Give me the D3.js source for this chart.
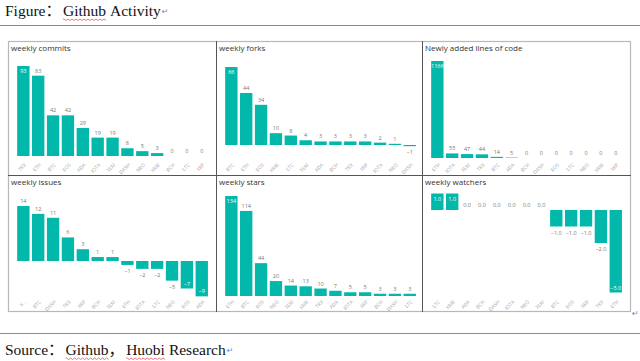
<!DOCTYPE html>
<html>
<head>
<meta charset="utf-8">
<script src="https://cdn.jsdelivr.net/npm/d3@7"></script>
<style>
  body { margin: 0; background: #fff; }
  svg { display: block; }
</style>
</head>
<body>
<script>
// values
const commitsCats = ["TRX", "ETH", "BTC", "EOS", "ADA", "IOTA", "XLM", "DASH", "NEO", "XMR", "BCH", "LTC", "XRP"];
const commitsVals = [93, 83, 42, 42, 29, 19, 19, 8, 5, 3, 0, 0, 0];

const forksCats = ["BTC", "ETH", "EOS", "XMR", "LTC", "XLM", "ADA", "BCH", "TRX", "XRP", "IOTA", "NEO", "DASH"];
const forksVals = [66, 44, 34, 10, 8, 4, 3, 3, 3, 3, 2, 1, -1];

const linesCats = ["ETH", "IOTA", "XLM", "TRX", "BTC", "ADA", "BCH", "DASH", "EOS", "LTC", "NEO", "XMR", "XRP"];
const linesVals = [1166, 55, 47, 44, 14, 5, 0, 0, 0, 0, 0, 0, 0];

const issuesCats = ["X...", "BTC", "DASH", "TRX", "XRP", "BCH", "XLM", "ETH", "IOTA", "LTC", "NEO", "EOS", "ADA"];
const issuesVals = [14, 12, 11, 6, 3, 1, 1, -1, -2, -2, -5, -7, -9];

const starsCats = ["ETH", "BTC", "EOS", "NEO", "XLM", "XMR", "TRX", "ADA", "IOTA", "XRP", "BCH", "DASH", "LTC"];
const starsVals = [134, 114, 44, 20, 14, 13, 10, 7, 5, 5, 3, 3, 3];

const watchersCats = ["LTC", "XMR", "ADA", "BCH", "DASH", "IOTA", "NEO", "XLM", "BTC", "EOS", "XRP", "TRX", "ETH"];
const watchersVals = [1, 1, 0, 0, 0, 0, 0, 0, -1, -1, -1, -2, -5];

const teal = "#01B8AA";

// panel layout: x, y of tile, zero line, and a reference value with its pixel
const panels = [
  {title: "weekly commits", cats: commitsCats, vals: commitsVals, x: 8, y: 41, w: 208, h: 134, zero: 156, ref: 93, refY: 66, fmt: d3.format("d")},
  {title: "weekly forks", cats: forksCats, vals: forksVals, x: 216, y: 41, w: 206, h: 134, zero: 145, ref: 66, refY: 67, fmt: d3.format("d")},
  {title: "Newly added lines of code", cats: linesCats, vals: linesVals, x: 422, y: 41, w: 209, h: 134, zero: 158, ref: 1166, refY: 61, fmt: d3.format("d")},
  {title: "weekly issues", cats: issuesCats, vals: issuesVals, x: 8, y: 175, w: 208, h: 137, zero: 261, ref: 14, refY: 206, fmt: d3.format("d")},
  {title: "weekly stars", cats: starsCats, vals: starsVals, x: 216, y: 175, w: 206, h: 137, zero: 296, ref: 134, refY: 196, fmt: d3.format("d")},
  {title: "weekly watchers", cats: watchersCats, vals: watchersVals, x: 422, y: 175, w: 209, h: 137, zero: 210, ref: 1, refY: 193.5, fmt: d3.format(".1f")}
];

const svg = d3.select("body").append("svg")
  .attr("width", 640)
  .attr("height", 361);

// header
const serif = "'Liberation Serif', 'Noto Sans CJK SC', serif";
function wordLine(parts, y) {
  let x = 5;
  parts.forEach(p => {
    const t = svg.append("text")
      .attr("x", x + (p.gap || 0))
      .attr("y", y)
      .attr("font-family", serif)
      .attr("font-size", 15.5)
      .attr("fill", "#111")
      .text(p.text);
    const w = t.node().getComputedTextLength();
    if (p.wavy) {
      const x0 = x + (p.gap || 0);
      let d = "M" + x0 + "," + (y + 3);
      for (let k = x0; k < x0 + w; k += 2) {
        d += " L" + (k + 1) + "," + (y + (Math.round(k) % 4 < 2 ? 4.5 : 3));
      }
      svg.append("path").attr("d", d).attr("fill", "none").attr("stroke", "#e04040").attr("stroke-width", 0.7);
    }
    x += (p.gap || 0) + w;
  });
  svg.append("text")
    .attr("x", x + 1)
    .attr("y", y - 2)
    .attr("font-family", "DejaVu Sans")
    .attr("font-size", 8)
    .attr("fill", "#5b8fd6")
    .text("↵");
}

svg.append("line").attr("x1", 0).attr("x2", 640).attr("y1", 25.5).attr("y2", 25.5).attr("stroke", "#888").attr("stroke-width", 1);
wordLine([{text: "Figure："}, {text: "Github", wavy: true, gap: 2}, {text: "Activity", gap: 4}], 16);

svg.append("line").attr("x1", 0).attr("x2", 640).attr("y1", 333.5).attr("y2", 333.5).attr("stroke", "#8a8aaa").attr("stroke-width", 1);
wordLine([{text: "Source："}, {text: "Github", wavy: true, gap: 2}, {text: "，"}, {text: "Huobi", wavy: true, gap: 2}, {text: "Research", gap: 4}], 355);

// frame
svg.append("rect")
  .attr("x", 8.5).attr("y", 41.5).attr("width", 622).attr("height", 270)
  .attr("fill", "none").attr("stroke", "#b8b8b8").attr("stroke-width", 1.2);

panels.forEach(p => {
  const g = svg.append("g");

  const x = d3.scaleBand()
    .domain(p.cats)
    .range([p.x + 7.9, p.x + 201.2])
    .paddingInner(0.17)
    .paddingOuter(0.085);

  const y = d3.scaleLinear()
    .domain([0, p.ref])
    .range([p.zero, p.refY]);

  const plotTop = p.y + 21;
  const plotBottom = p.y + p.h - 16;
  const axisY = p.y + p.h - 13;

  g.append("text")
    .attr("x", p.x + 3)
    .attr("y", p.y + 10)
    .attr("font-family", "'Open Sans', sans-serif")
    .attr("font-size", 8)
    .attr("fill", "#333")
    .text(p.title);

  const data = p.cats.map((c, i) => ({cat: c, val: p.vals[i]}));
  const isInside = d => {
    const yv = y(d.val);
    return d.val >= 0 ? (yv - 8 < plotTop) : (yv + 8 > plotBottom);
  };

  g.selectAll("rect.bar")
    .data(data)
    .join("rect")
    .attr("class", "bar")
    .attr("x", d => x(d.cat))
    .attr("width", x.bandwidth())
    .attr("y", d => Math.min(y(d.val), y(0)))
    .attr("height", d => Math.abs(y(d.val) - y(0)))
    .attr("fill", teal);

  g.selectAll("text.lbl")
    .data(data)
    .join("text")
    .attr("class", "lbl")
    .attr("x", d => x(d.cat) + x.bandwidth() / 2)
    .attr("y", d => {
      const yv = y(d.val);
      if (d.val >= 0) return isInside(d) ? yv + 7 : yv - 3;
      return isInside(d) ? yv - 3 : yv + 8;
    })
    .attr("text-anchor", "middle")
    .attr("font-family", "'Open Sans', sans-serif")
    .attr("font-size", 5.5)
    .attr("fill", d => isInside(d) ? "#fff" : "#777")
    .text(d => p.fmt(d.val).replace("-", "−"));

  // category axis, labels turned 45 degrees
  const axis = d3.axisBottom(x).tickSize(0).tickPadding(0);
  const ag = g.append("g")
    .attr("transform", "translate(0," + axisY + ")")
    .call(axis);
  ag.select(".domain").remove();
  ag.selectAll("text")
    .attr("font-family", "'Open Sans', sans-serif")
    .attr("font-size", 5)
    .attr("fill", "#aaa")
    .attr("text-anchor", "end")
    .attr("dy", "0.35em")
    .attr("transform", "translate(2,2) rotate(-45)");
});

// tile dividers
svg.append("line").attr("x1", 216.5).attr("x2", 216.5).attr("y1", 41).attr("y2", 312).attr("stroke", "#555");
svg.append("line").attr("x1", 422.5).attr("x2", 422.5).attr("y1", 41).attr("y2", 312).attr("stroke", "#555");
svg.append("line").attr("x1", 8).attr("x2", 631).attr("y1", 175.5).attr("y2", 175.5).attr("stroke", "#555");

svg.append("text")
  .attr("x", 632).attr("y", 316)
  .attr("font-family", "DejaVu Sans").attr("font-size", 8).attr("fill", "#5b8fd6")
  .text("↵");
</script>
</body>
</html>
